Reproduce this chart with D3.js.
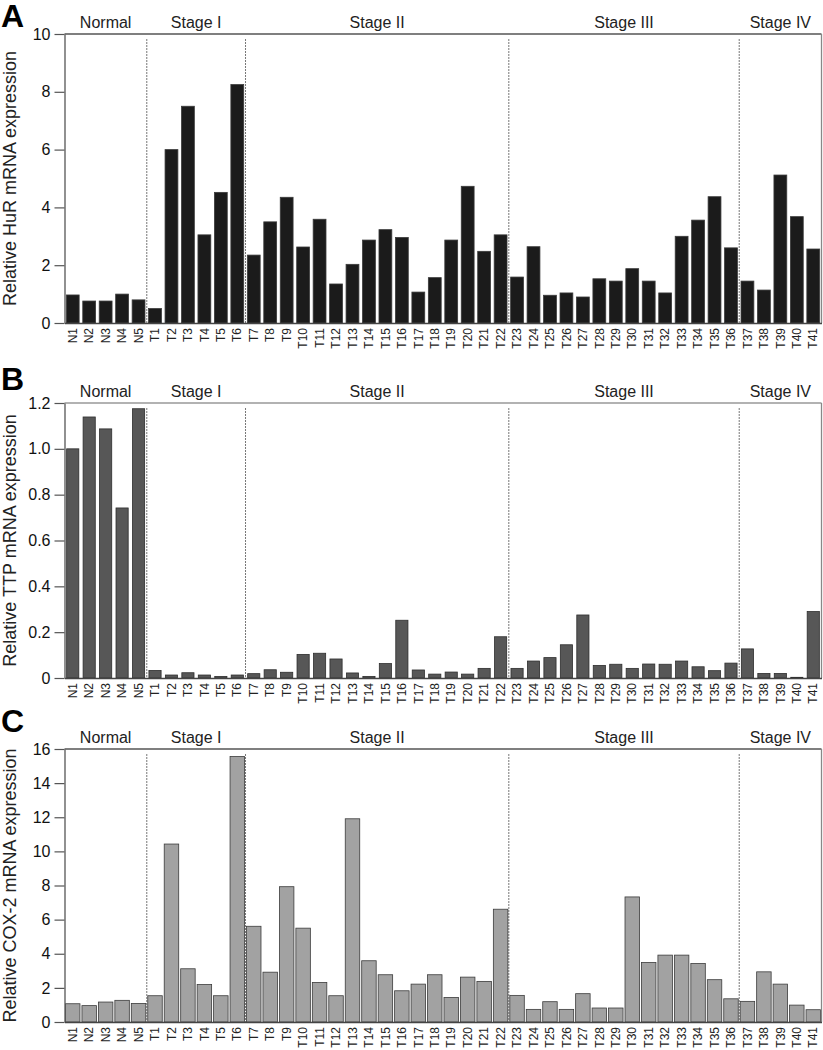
<!DOCTYPE html>
<html>
<head>
<meta charset="utf-8">
<script src="https://cdn.jsdelivr.net/npm/d3@7"></script>
<style>
  body { margin: 0; background: #fff; }
  svg { display: block; font-family: "Liberation Sans", Arial, sans-serif; }
</style>
</head>
<body>
<svg id="chart" width="823" height="1050"></svg>
<script>
const SAMPLES = ['N1','N2','N3','N4','N5',
  'T1','T2','T3','T4','T5','T6',
  'T7','T8','T9','T10','T11','T12','T13','T14','T15','T16','T17','T18','T19','T20','T21','T22',
  'T23','T24','T25','T26','T27','T28','T29','T30','T31','T32','T33','T34','T35','T36',
  'T37','T38','T39','T40','T41'];

const STAGES = ['Normal', 'Stage I', 'Stage II', 'Stage III', 'Stage IV'];
const STAGE_SIZES = [5, 6, 16, 14, 5];

const HUR = [0.97, 0.76, 0.76, 1.0, 0.8,
  0.5, 6.0, 7.5, 3.05, 4.52, 8.25,
  2.35, 3.5, 4.35, 2.63, 3.59, 1.35, 2.03, 2.87, 3.23, 2.96, 1.07, 1.57, 2.87, 4.73, 2.48, 3.05,
  1.59, 2.64, 0.96, 1.04, 0.9, 1.53, 1.45, 1.88, 1.45, 1.04, 3.0, 3.56, 4.37, 2.6,
  1.45, 1.14, 5.12, 3.68, 2.56];

const TTP = [1.0, 1.139, 1.087, 0.742, 1.175,
  0.033, 0.013, 0.023, 0.013, 0.007, 0.013,
  0.019, 0.036, 0.025, 0.103, 0.108, 0.083, 0.022, 0.007, 0.063, 0.252, 0.035, 0.017, 0.026, 0.017, 0.042, 0.18,
  0.042, 0.074, 0.089, 0.145, 0.275, 0.055, 0.06, 0.042, 0.061, 0.06, 0.074, 0.049, 0.032, 0.065,
  0.127, 0.02, 0.02, 0.003, 0.29];

const COX2 = [1.07, 0.96, 1.17, 1.27, 1.09,
  1.54, 10.43, 3.12, 2.2, 1.54, 15.56,
  5.61, 2.92, 7.93, 5.5, 2.32, 1.54, 11.91, 3.59, 2.77, 1.83, 2.22, 2.77, 1.44, 2.63, 2.38, 6.61,
  1.56, 0.74, 1.19, 0.74, 1.66, 0.82, 0.82, 7.33, 3.49, 3.92, 3.92, 3.43, 2.48, 1.36,
  1.21, 2.94, 2.22, 0.99, 0.72];

const HUR_TICKS = [0, 2, 4, 6, 8, 10];
const TTP_TICKS = [0, 0.2, 0.4, 0.6, 0.8, 1.0, 1.2];
const COX2_TICKS = [0, 2, 4, 6, 8, 10, 12, 14, 16];

const LEFT = 64.5;
const RIGHT = 821.5;

const PANELS = [
  { letter: 'A', values: HUR, ticks: HUR_TICKS, max: 10, fmt: d3.format('d'),
    title: 'Relative HuR mRNA expression', top: 34, bottom: 323, letterY: 27, stageY: 28,
    fill: '#1b1b1b', stroke: '#3a3a3a', pad: 0.22, frame: '#555' },
  { letter: 'B', values: TTP, ticks: TTP_TICKS, max: 1.2, fmt: d => d === 0 ? '0' : d3.format('.1f')(d),
    title: 'Relative TTP mRNA expression', top: 403, bottom: 678, letterY: 390, stageY: 397,
    fill: '#575757', stroke: '#2e2e2e', pad: 0.26, frame: '#999' },
  { letter: 'C', values: COX2, ticks: COX2_TICKS, max: 16, fmt: d3.format('d'),
    title: 'Relative COX-2 mRNA expression', top: 749, bottom: 1022, letterY: 732, stageY: 743,
    fill: '#a2a2a2', stroke: '#3c3c3c', pad: 0.12, frame: '#555' }
];

const $svg = d3.select('#chart');

function drawPanel(p) {
  const x = d3.scaleBand()
    .domain(SAMPLES)
    .range([LEFT, RIGHT])
    .paddingInner(p.pad)
    .paddingOuter(p.pad / 2);

  const y = d3.scaleLinear()
    .domain([0, p.max])
    .range([p.bottom, p.top]);

  const $g = $svg.append('g').attr('class', 'panel');
  const step = x.step();

  // panel letter
  $g.append('text')
    .attr('x', 1)
    .attr('y', p.letterY)
    .attr('font-size', 32)
    .attr('font-weight', 'bold')
    .attr('fill', '#000')
    .text(p.letter);

  // stage dividers + labels
  let start = 0;
  STAGES.forEach((stage, i) => {
    const n = STAGE_SIZES[i];
    const x0 = x(SAMPLES[start]) - step * p.pad / 2;
    const x1 = x0 + n * step;
    $g.append('text')
      .attr('x', (x0 + x1) / 2)
      .attr('y', p.stageY)
      .attr('text-anchor', 'middle')
      .attr('font-size', 16)
      .attr('fill', '#222')
      .text(stage);
    if (i > 0) {
      $g.append('line')
        .attr('x1', x0).attr('x2', x0)
        .attr('y1', p.top + 5).attr('y2', p.bottom)
        .attr('stroke', '#777')
        .attr('stroke-width', 1)
        .attr('stroke-dasharray', '2,1');
    }
    start += n;
  });

  // bars
  $g.append('g')
    .selectAll('rect')
    .data(p.values)
    .join('rect')
    .attr('x', (d, i) => x(SAMPLES[i]))
    .attr('width', x.bandwidth())
    .attr('y', d => y(d))
    .attr('height', d => y(0) - y(d))
    .attr('fill', p.fill)
    .attr('stroke', p.stroke)
    .attr('stroke-width', 0.8);

  // frame top + right
  $g.append('line')
    .attr('x1', LEFT).attr('x2', RIGHT)
    .attr('y1', p.top).attr('y2', p.top)
    .attr('stroke', p.frame).attr('stroke-width', 1.3);
  $g.append('line')
    .attr('x1', RIGHT).attr('x2', RIGHT)
    .attr('y1', p.top).attr('y2', p.bottom)
    .attr('stroke', '#888').attr('stroke-width', 1.3);

  // y axis
  const axisY = d3.axisLeft(y)
    .tickValues(p.ticks)
    .tickFormat(p.fmt)
    .tickSize(10)
    .tickSizeOuter(0)
    .tickPadding(4);
  const $ay = $g.append('g')
    .attr('transform', `translate(${LEFT},0)`)
    .call(axisY);
  $ay.select('.domain').attr('stroke', '#555').attr('stroke-width', 1.3);
  $ay.selectAll('.tick line').attr('stroke', '#555').attr('stroke-width', 1.2);
  $ay.selectAll('.tick text')
    .attr('font-size', 16)
    .attr('font-family', '"Liberation Sans", Arial, sans-serif')
    .attr('fill', '#111');

  // x axis
  const axisX = d3.axisBottom(x)
    .tickSize(0)
    .tickSizeOuter(0)
    .tickPadding(0);
  const $ax = $g.append('g')
    .attr('transform', `translate(0,${p.bottom})`)
    .call(axisX);
  $ax.select('.domain').attr('stroke', '#444').attr('stroke-width', 1.3);
  $ax.selectAll('.tick text')
    .attr('font-size', 12)
    .attr('font-family', '"Liberation Sans", Arial, sans-serif')
    .attr('fill', '#222')
    .attr('text-anchor', 'end')
    .attr('transform', 'rotate(-90)')
    .attr('x', -5)
    .attr('y', 0)
    .attr('dy', '0.35em');

  // y title
  $g.append('text')
    .attr('transform', `translate(15.5,${(p.top + p.bottom) / 2}) rotate(-90)`)
    .attr('text-anchor', 'middle')
    .attr('font-size', 18)
    .attr('fill', '#222')
    .text(p.title);
}

PANELS.forEach(drawPanel);
</script>
</body>
</html>
